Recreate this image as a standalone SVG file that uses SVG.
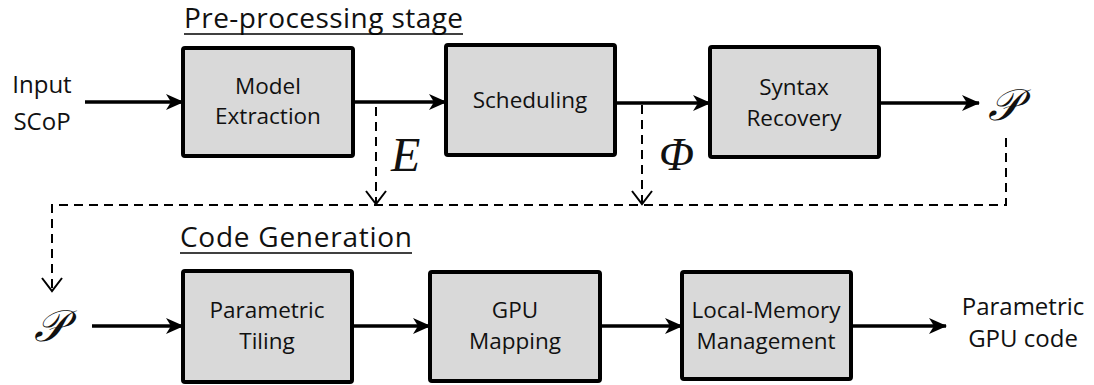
<svg xmlns="http://www.w3.org/2000/svg" width="1094" height="385" viewBox="0 0 1094 385">
  <style>
    .box { fill: #d9d9d9; stroke: #000; stroke-width: 4; }
    .lbl { font-family: "Open Sans", "Liberation Sans", sans-serif; font-size: 22.5px; fill: #111; text-anchor: middle; }
    .io { font-family: "Open Sans", "Liberation Sans", sans-serif; font-size: 24px; fill: #111; text-anchor: middle; }
    .title { font-family: "Open Sans", "Liberation Sans", sans-serif; font-size: 28px; fill: #111; }
    .math { font-family: "Liberation Serif", "DejaVu Serif", serif; font-style: italic; fill: #111; }
    .flow { fill: none; stroke: #000; stroke-width: 3.5; }
    .dash { fill: none; stroke: #000; stroke-width: 2; stroke-dasharray: 9 6; }
    .rule { stroke: #000; stroke-width: 1.6; }
  </style>
  <defs>
    <marker id="head" viewBox="0 0 18 16" refX="17" refY="8" markerWidth="18" markerHeight="16" markerUnits="userSpaceOnUse" orient="auto">
      <path d="M0,0 L18,8 L0,16 L5,8 z" fill="#000"/>
    </marker>
    <marker id="vee" viewBox="0 0 16 22" refX="14" refY="11" markerWidth="16" markerHeight="22" markerUnits="userSpaceOnUse" orient="auto">
      <path d="M1,1 L14,11 L1,21" fill="none" stroke="#000" stroke-width="2"/>
    </marker>
  </defs>

  <!-- section headings -->
  <g id="heading-pre">
    <text class="title" x="184" y="28" textLength="279" lengthAdjust="spacing">Pre-processing stage</text>
    <line class="rule" x1="184" y1="34" x2="463" y2="34"/>
  </g>
  <g id="heading-codegen">
    <text class="title" x="180" y="247" textLength="232" lengthAdjust="spacing">Code Generation</text>
    <line class="rule" x1="180" y1="253" x2="412" y2="253"/>
  </g>

  <!-- inputs and outputs -->
  <g id="input-scop">
    <text class="io" x="42" y="93">Input</text>
    <text class="io" x="42" y="130">SCoP</text>
  </g>
  <g id="p-top">
    <text class="math" x="988" y="120" font-size="44">𝒫</text>
  </g>
  <g id="p-bottom">
    <text class="math" x="34" y="341" font-size="44">𝒫</text>
  </g>
  <g id="gpu-code">
    <text class="io" x="1023" y="315">Parametric</text>
    <text class="io" x="1023" y="347">GPU code</text>
  </g>
  <g id="label-e">
    <text class="math" x="391" y="171" font-size="48">E</text>
  </g>
  <g id="label-phi">
    <text class="math" x="659" y="170" font-size="46">Φ</text>
  </g>

  <!-- pre-processing stage -->
  <g id="model-extraction">
    <rect class="box" x="183" y="48" width="170" height="108" rx="2"/>
    <text class="lbl" x="268" y="94">Model</text>
    <text class="lbl" x="268" y="124">Extraction</text>
  </g>
  <g id="scheduling">
    <rect class="box" x="446" y="45" width="169" height="110" rx="2"/>
    <text class="lbl" x="530" y="108">Scheduling</text>
  </g>
  <g id="syntax-recovery">
    <rect class="box" x="710" y="47" width="169" height="110" rx="2"/>
    <text class="lbl" x="794" y="95">Syntax</text>
    <text class="lbl" x="794" y="126">Recovery</text>
  </g>

  <!-- code generation -->
  <g id="parametric-tiling">
    <rect class="box" x="183" y="271" width="169" height="111" rx="2"/>
    <text class="lbl" x="267" y="318">Parametric</text>
    <text class="lbl" x="267" y="349">Tiling</text>
  </g>
  <g id="gpu-mapping">
    <rect class="box" x="430" y="272" width="170" height="109" rx="2"/>
    <text class="lbl" x="515" y="318">GPU</text>
    <text class="lbl" x="515" y="349">Mapping</text>
  </g>
  <g id="local-memory">
    <rect class="box" x="682" y="272" width="169" height="107" rx="2"/>
    <text class="lbl" x="766" y="318">Local-Memory</text>
    <text class="lbl" x="766" y="349">Management</text>
  </g>

  <!-- connectors -->
  <g id="connectors">
    <line class="flow" x1="85" y1="102" x2="183" y2="102" marker-end="url(#head)"/>
    <line class="flow" x1="353" y1="102" x2="446" y2="102" marker-end="url(#head)"/>
    <line class="flow" x1="615" y1="103" x2="710" y2="103" marker-end="url(#head)"/>
    <line class="flow" x1="879" y1="103" x2="979" y2="103" marker-end="url(#head)"/>
    <line class="flow" x1="92" y1="326" x2="183" y2="326" marker-end="url(#head)"/>
    <line class="flow" x1="352" y1="326" x2="430" y2="326" marker-end="url(#head)"/>
    <line class="flow" x1="600" y1="326" x2="682" y2="326" marker-end="url(#head)"/>
    <line class="flow" x1="851" y1="326" x2="946" y2="326" marker-end="url(#head)"/>

    <line class="dash" x1="376" y1="107" x2="376" y2="204" marker-end="url(#vee)"/>
    <line class="dash" x1="642" y1="105" x2="642" y2="204" marker-end="url(#vee)"/>
    <path class="dash" d="M1006,138 L1006,205 L52,205 L52,291" marker-end="url(#vee)"/>
  </g>
</svg>
